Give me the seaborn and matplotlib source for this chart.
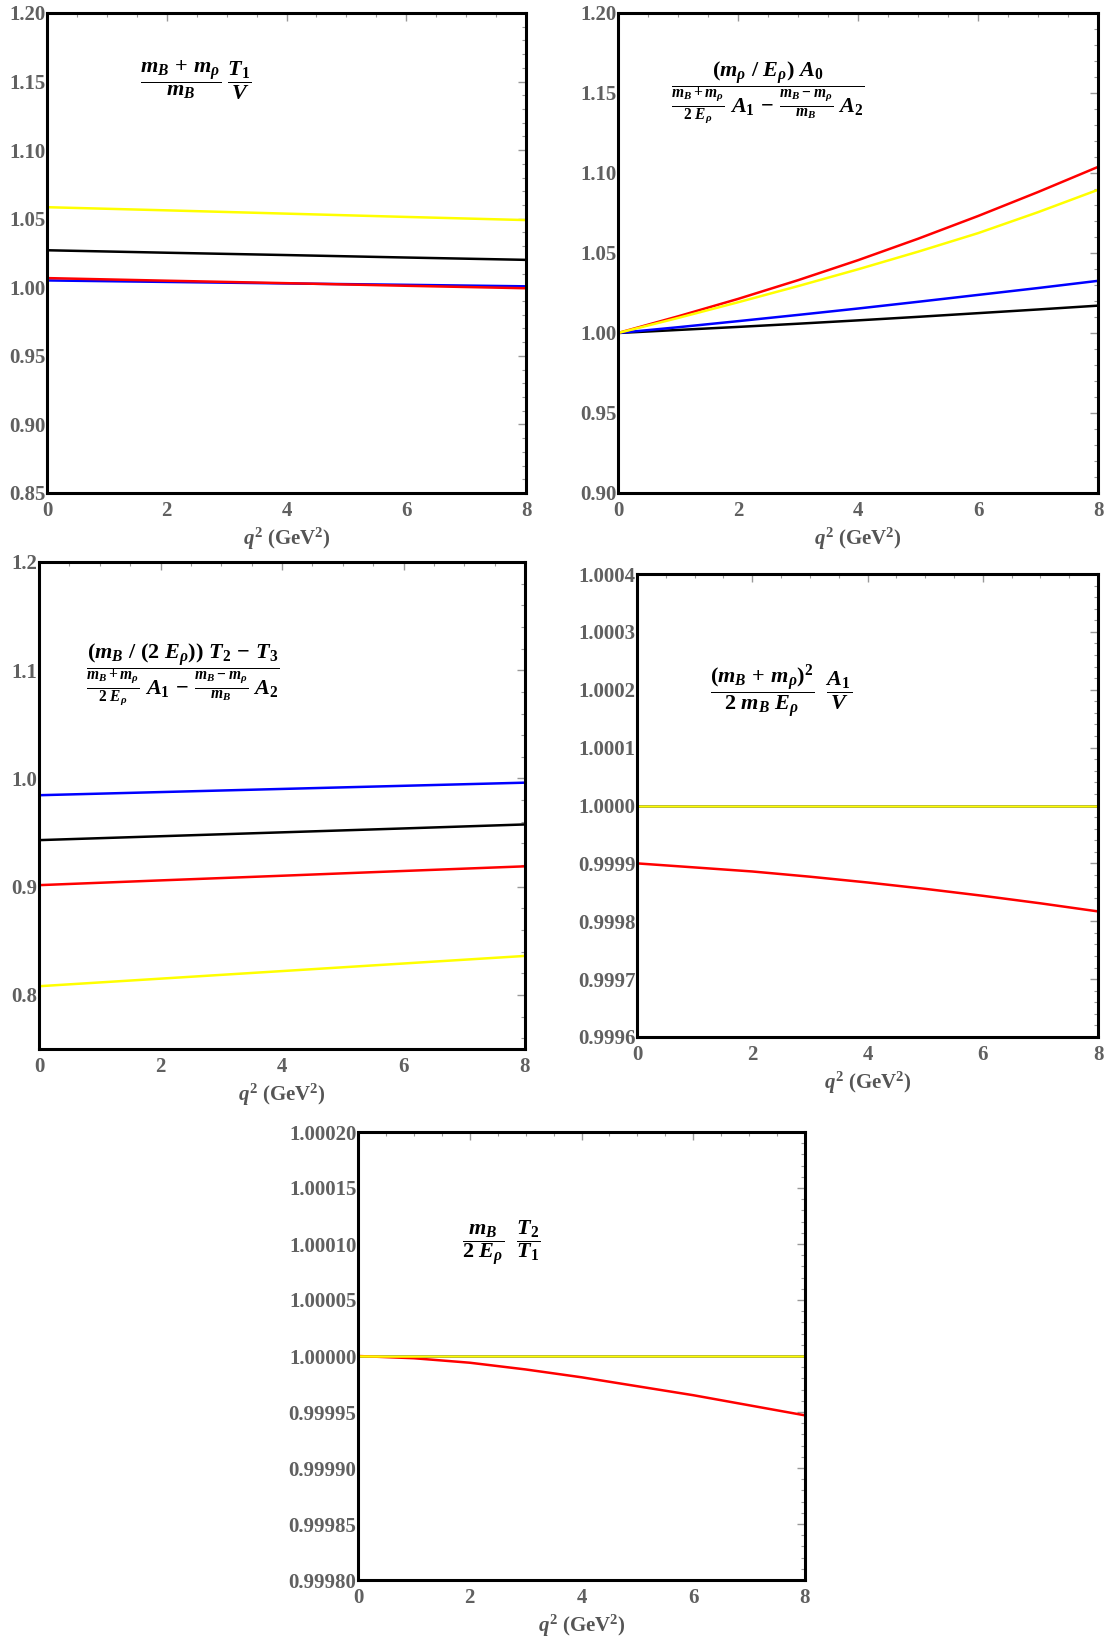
import matplotlib
matplotlib.use("Agg")
import pandas as pd
import matplotlib.pyplot as plt
import seaborn as sns
from matplotlib.ticker import MultipleLocator, FormatStrFormatter

# q^2 grid (GeV^2)
q2 = [0, 1, 2, 3, 4, 5, 6, 7, 8]
q2_coarse = [0, 2, 4, 6, 8]

# panel 1: (mB+mrho)/mB * T1/V
p1_yellow = [1.0584, 1.0561, 1.0537, 1.0513, 1.0490]
p1_black = [1.0270, 1.0252, 1.0235, 1.0217, 1.0200]
p1_blue = [1.0050, 1.0039, 1.0028, 1.0018, 1.0007]
p1_red = [1.0067, 1.0048, 1.0030, 1.0011, 0.9993]

# panel 2: (mrho/Erho) A0 / (...)
p2_black = [1.0, 1.0019, 1.0038, 1.0058, 1.0079, 1.0101, 1.0124, 1.0147, 1.0171]
p2_blue = [1.0, 1.0036, 1.0074, 1.0113, 1.0153, 1.0195, 1.0238, 1.0281, 1.0326]
p2_red = [1.0, 1.0104, 1.0213, 1.0330, 1.0455, 1.0589, 1.0731, 1.0881, 1.1038]
p2_yellow = [1.0, 1.0094, 1.0192, 1.0293, 1.0398, 1.0508, 1.0624, 1.0755, 1.0895]

# panel 3: ((mB/(2Erho)) T2 - T3) / (...)
p3_blue = [0.9845, 0.9874, 0.9903, 0.9932, 0.9961]
p3_black = [0.9430, 0.9466, 0.9502, 0.9538, 0.9575]
p3_red = [0.9014, 0.9058, 0.9101, 0.9145, 0.9188]
p3_yellow = [0.8080, 0.8150, 0.8220, 0.8290, 0.8360]

# panel 4: (mB+mrho)^2/(2 mB Erho) * A1/V
p4_black = [1.0] * 9
p4_blue = [1.0] * 9
p4_red = [0.999900, 0.999893, 0.999886, 0.999877, 0.999867, 0.999856, 0.999844, 0.999831, 0.999817]
p4_yellow = [1.0] * 9

# panel 5: mB/(2Erho) * T2/T1
p5_black = [1.0] * 9
p5_blue = [1.0] * 9
p5_red = [1.0, 0.999998, 0.999994, 0.999988, 0.999981, 0.999973, 0.999965, 0.999956, 0.999947]
p5_yellow = [1.0] * 9

colors = {"black": "#000000", "blue": "#0000ff", "red": "#ff0000", "yellow": "#ffff00"}

sns.set_style("white")
plt.rcParams["font.family"] = ["Liberation Serif", "DejaVu Serif"]
plt.rcParams["font.weight"] = "bold"
plt.rcParams["mathtext.fontset"] = "custom"
plt.rcParams["mathtext.rm"] = "Liberation Serif:bold"
plt.rcParams["mathtext.it"] = "Liberation Serif:italic:bold"
plt.rcParams["mathtext.bf"] = "Liberation Serif:bold"

W, H = 1106, 1638
fig = plt.figure(figsize=(W / 100, H / 100), dpi=100)


def box(l, r, t, b):
    return [l / W, 1 - b / H, (r - l) / W, (b - t) / H]


def panel(rect, x, series, ylim, ymaj, ymin, fmt, formula, fpos):
    ax = fig.add_axes(box(*rect))
    rows = []
    for name, vals in series:
        for xi, yi in zip(x, vals):
            rows.append({"q2": xi, "val": yi, "curve": name})
    df = pd.DataFrame(rows)
    sns.lineplot(data=df, x="q2", y="val", hue="curve", palette=colors,
                 hue_order=[s[0] for s in series], sort=False, estimator=None,
                 linewidth=1.8, legend=False, ax=ax)
    ax.set_xlim(0, 8)
    ax.set_ylim(*ylim)
    ax.xaxis.set_major_locator(MultipleLocator(2))
    ax.xaxis.set_minor_locator(MultipleLocator(0.5))
    ax.yaxis.set_major_locator(MultipleLocator(ymaj))
    ax.yaxis.set_minor_locator(MultipleLocator(ymin))
    ax.yaxis.set_major_formatter(FormatStrFormatter(fmt))
    ax.tick_params(which="both", direction="in", top=True, right=True,
                   color="#999999", labelsize=15, labelcolor="#606060")
    ax.tick_params(axis="y", pad=1)
    ax.tick_params(axis="x", pad=6)
    ax.tick_params(which="major", length=6, width=1)
    ax.tick_params(which="minor", length=3, width=0.8)
    for lab in ax.get_xticklabels() + ax.get_yticklabels():
        lab.set_fontweight("bold")
    for sp in ax.spines.values():
        sp.set_linewidth(2.2)
        sp.set_color("black")
    ax.set_xlabel(r"$q^{2}$ (GeV$^{2}$)", fontsize=15, fontweight="bold",
                  color="#555555", labelpad=3)
    ax.set_ylabel("")
    fig.text(fpos[0] / W, 1 - fpos[1] / H, formula, fontsize=16,
             ha="center", va="center", color="black")
    return ax


panel((47, 526, 13, 493), q2_coarse,
      [("yellow", p1_yellow), ("black", p1_black), ("blue", p1_blue), ("red", p1_red)],
      (0.85, 1.20), 0.05, 0.01, "%.2f",
      r"$\dfrac{m_B\,+\,m_\rho}{m_B}\ \dfrac{T_1}{V}$", (196, 80))

panel((618, 1098, 13, 493), q2,
      [("black", p2_black), ("blue", p2_blue), ("red", p2_red), ("yellow", p2_yellow)],
      (0.90, 1.20), 0.05, 0.01, "%.2f",
      r"$\dfrac{(m_\rho\ /\ E_\rho)\ A_0}{\frac{m_B+m_\rho}{2\ E_\rho}\ A_1\,-\,\frac{m_B-m_\rho}{m_B}\ A_2}$",
      (768, 92))

panel((39, 525, 562, 1049), q2_coarse,
      [("blue", p3_blue), ("black", p3_black), ("red", p3_red), ("yellow", p3_yellow)],
      (0.75, 1.20), 0.1, 0.02, "%.1f",
      r"$\dfrac{(m_B\ /\ (2\ E_\rho))\ T_2\,-\,T_3}{\frac{m_B+m_\rho}{2\ E_\rho}\ A_1\,-\,\frac{m_B-m_\rho}{m_B}\ A_2}$",
      (183, 674))

panel((637, 1098, 574, 1037), q2,
      [("black", p4_black), ("blue", p4_blue), ("red", p4_red), ("yellow", p4_yellow)],
      (0.9996, 1.0004), 0.0001, 0.00002, "%.4f",
      r"$\dfrac{(m_B\,+\,m_\rho)^2}{2\ m_B\ E_\rho}\ \ \dfrac{A_1}{V}$", (781, 692))

panel((358, 805, 1132, 1580), q2,
      [("black", p5_black), ("blue", p5_blue), ("red", p5_red), ("yellow", p5_yellow)],
      (0.99980, 1.00020), 0.00005, 0.00001, "%.5f",
      r"$\dfrac{m_B}{2\ E_\rho}\ \ \dfrac{T_2}{T_1}$", (501, 1243))

fig.savefig("out.png", dpi=100)
